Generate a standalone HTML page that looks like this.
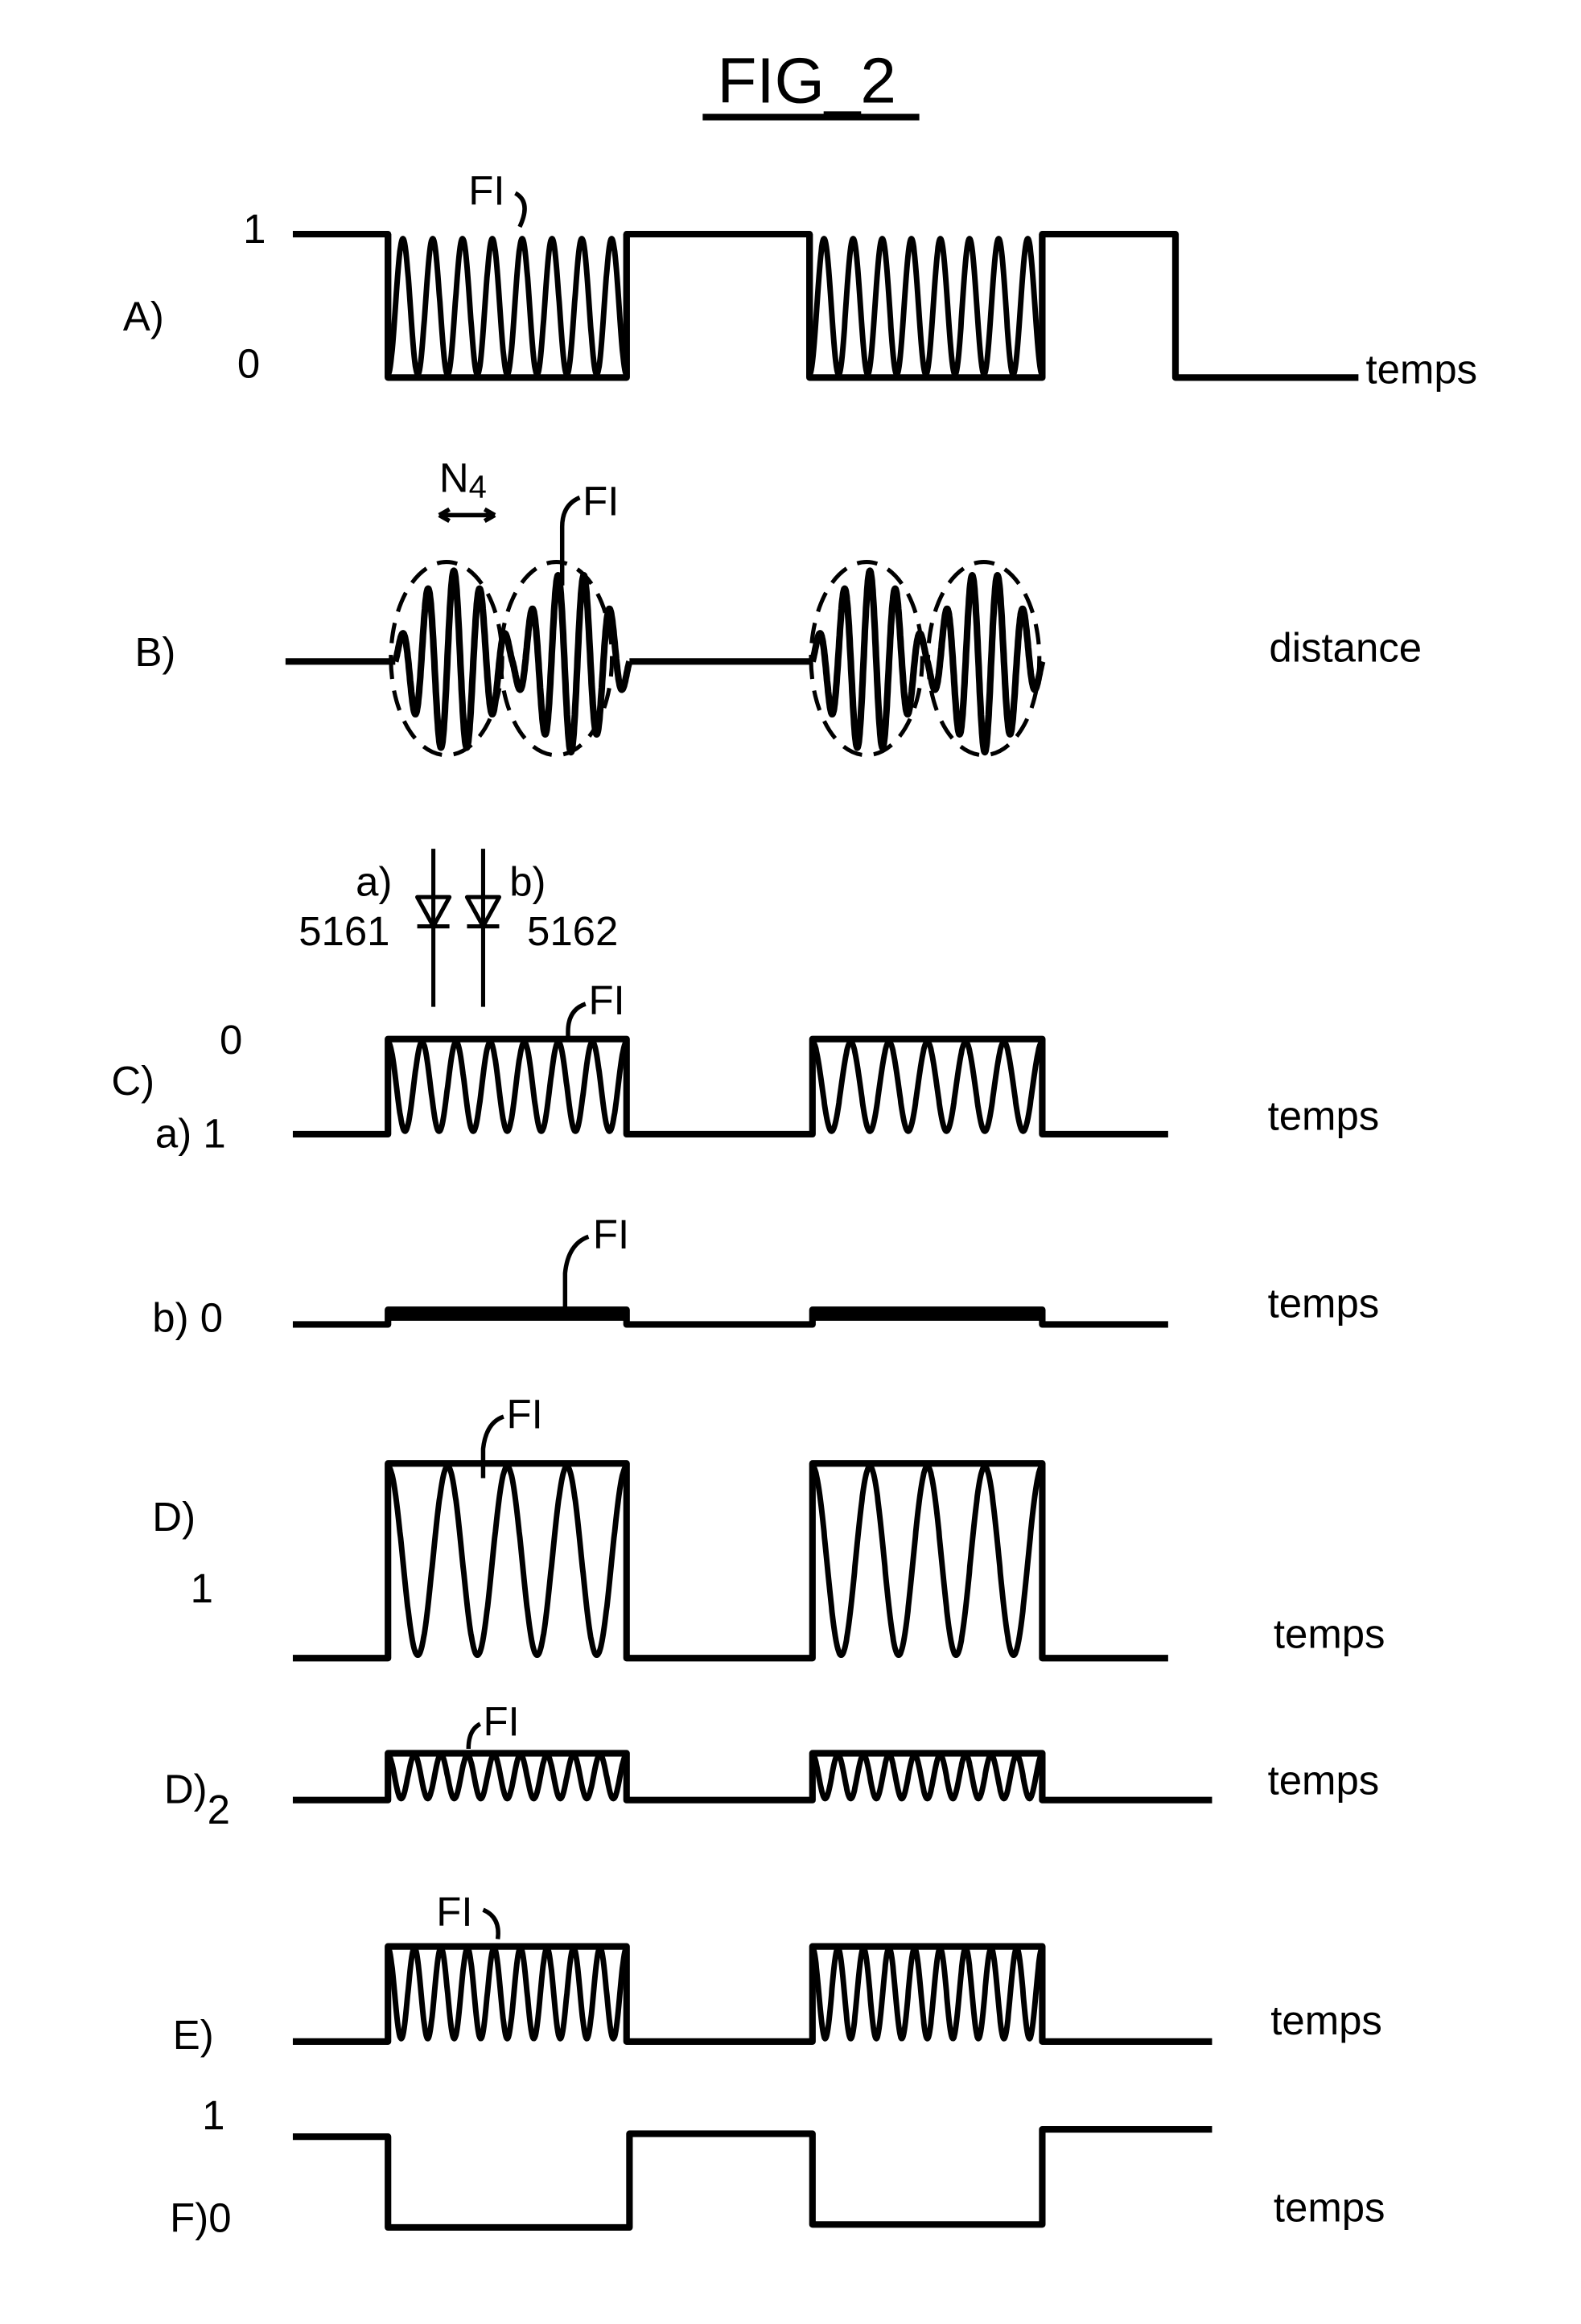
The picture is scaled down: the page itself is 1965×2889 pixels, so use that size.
<!DOCTYPE html>
<html><head><meta charset="utf-8"><style>
html,body{margin:0;padding:0;background:#fff;}
svg{display:block;}
text{font-family:"Liberation Sans",sans-serif;fill:#000;}
</style></head><body>
<svg id="s" width="1965" height="2889" viewBox="0 0 1080 1588" xmlns="http://www.w3.org/2000/svg">
<g fill="none" stroke="#000" stroke-width="4.5" stroke-linejoin="round" id="g">
<line x1="480" y1="80" x2="628" y2="80"/>
</g>
<g font-size="28">
<text x="490" y="70" font-size="44">FIG_2</text>
<text x="84" y="226">A)</text><text x="166" y="166">1</text><text x="162" y="258">0</text>
<text x="933" y="262">temps</text><text x="320" y="140">FI</text>
<text x="300" y="336">N<tspan font-size="22" dy="4">4</tspan></text>
<text x="398" y="352">FI</text>
<text x="92" y="455">B)</text><text x="867" y="452">distance</text>
<text x="243" y="612">a)</text><text x="348" y="612">b)</text>
<text x="204" y="646">5161</text><text x="360" y="646">5162</text>
<text x="150" y="720">0</text><text x="76" y="748">C)</text><text x="106" y="784">a) 1</text>
<text x="866" y="772">temps</text><text x="402" y="693">FI</text>
<text x="104" y="910">b) 0</text><text x="866" y="900">temps</text><text x="405" y="853">FI</text>
<text x="104" y="1046">D)</text><text x="130" y="1095">1</text><text x="870" y="1126">temps</text><text x="346" y="976">FI</text>
<text x="112" y="1232">D)<tspan dy="14">2</tspan></text><text x="866" y="1226">temps</text><text x="330" y="1186">FI</text>
<text x="298" y="1316">FI</text><text x="118" y="1400">E)</text><text x="868" y="1390">temps</text>
<text x="138" y="1455">1</text><text x="116" y="1525">F)0</text><text x="870" y="1518">temps</text>
</g>
<script>
(function(){
var g=document.getElementById('g'),NS='http://www.w3.org/2000/svg';
function P(d,w,dash){var p=document.createElementNS(NS,'path');p.setAttribute('d',d);if(w)p.setAttribute('stroke-width',w);if(dash)p.setAttribute('stroke-dasharray',dash);g.appendChild(p);}
function osc(x0,x1,top,bot,n,startTop){var d='';var N=400;for(var i=0;i<=N;i++){var t=i/N;var c=Math.cos(2*Math.PI*n*t);var y=startTop? top+(bot-top)*(0.5-0.5*c): bot-(bot-top)*(0.5-0.5*c);d+=(i?'L':'M')+(x0+(x1-x0)*t).toFixed(1)+' '+y.toFixed(1);}P(d,3.8);}
P('M200 160H265V258H428V160H553V258H712V160H803V258H928');
P('M265 160V258M428 160V258M553 160V258M712 160V258');
osc(265,428,163,256,8,false);osc(553,712,163,256,8,false);
P('M355 155Q363 138 352 132',3);
P('M195 452H270M430 452H555');
function burst(x0,x1,n){var d='';var N=600;for(var i=0;i<=N;i++){var t=i/N;var x=x0+(x1-x0)*t;var env=Math.abs(Math.sin(Math.PI*2*t))*0.85+0.15;var y=452-62*env*Math.sin(2*Math.PI*n*t);d+=(i?'L':'M')+x.toFixed(1)+' '+y.toFixed(1);}P(d,4.5);}
burst(270,430,9);burst(555,712,9);
[[305,450],[380,450],[592,450],[672,450]].forEach(function(c){P('M'+(c[0]-38)+' '+c[1]+'A38 66 0 1 0 '+(c[0]+38)+' '+c[1]+'A38 66 0 1 0 '+(c[0]-38)+' '+c[1],2.8,'14 8');});
P('M300 352H338M300 352l7-4M300 352l7 4M338 352l-7-4M338 352l-7 4',3);
P('M396 340Q384 345 384 360V400',3);
[296,330].forEach(function(x){P('M'+x+' 580V688',2.8);P('M'+(x-11)+' 613H'+(x+11)+'L'+x+' 633Z',2.8);P('M'+(x-11)+' 633H'+(x+11),2.8);});
P('M200 775H265V710H428V775H555V710H712V775H798');
osc(265,428,712,773,7,true);osc(555,712,712,773,6,true);
P('M400 686Q388 690 388 705V712',3);
P('M200 905H265V895H428V905H555V895H712V905H798');
P('M265 899H428M555 899H712',7);
P('M402 845Q388 850 386 870V895',3);
P('M200 1133H265V1000H428V1133H555V1000H712V1133H798');
osc(265,428,1002,1131,4,true);osc(555,712,1002,1131,4,true);
P('M344 968Q332 972 330 990V1010',3);
P('M200 1230H265V1198H428V1230H555V1198H712V1230H828');
osc(265,428,1199,1229,9,true);osc(555,712,1199,1229,9,true);
P('M328 1178Q320 1182 320 1195',3);
P('M200 1395H265V1330H428V1395H555V1330H712V1395H828');
osc(265,428,1331,1393,9,true);osc(555,712,1331,1393,9,true);
P('M330 1305Q342 1310 340 1325',3);
P('M200 1460H265V1522H430V1458H555V1520H712V1455H828');
})();
</script>
</svg>
</body></html>
